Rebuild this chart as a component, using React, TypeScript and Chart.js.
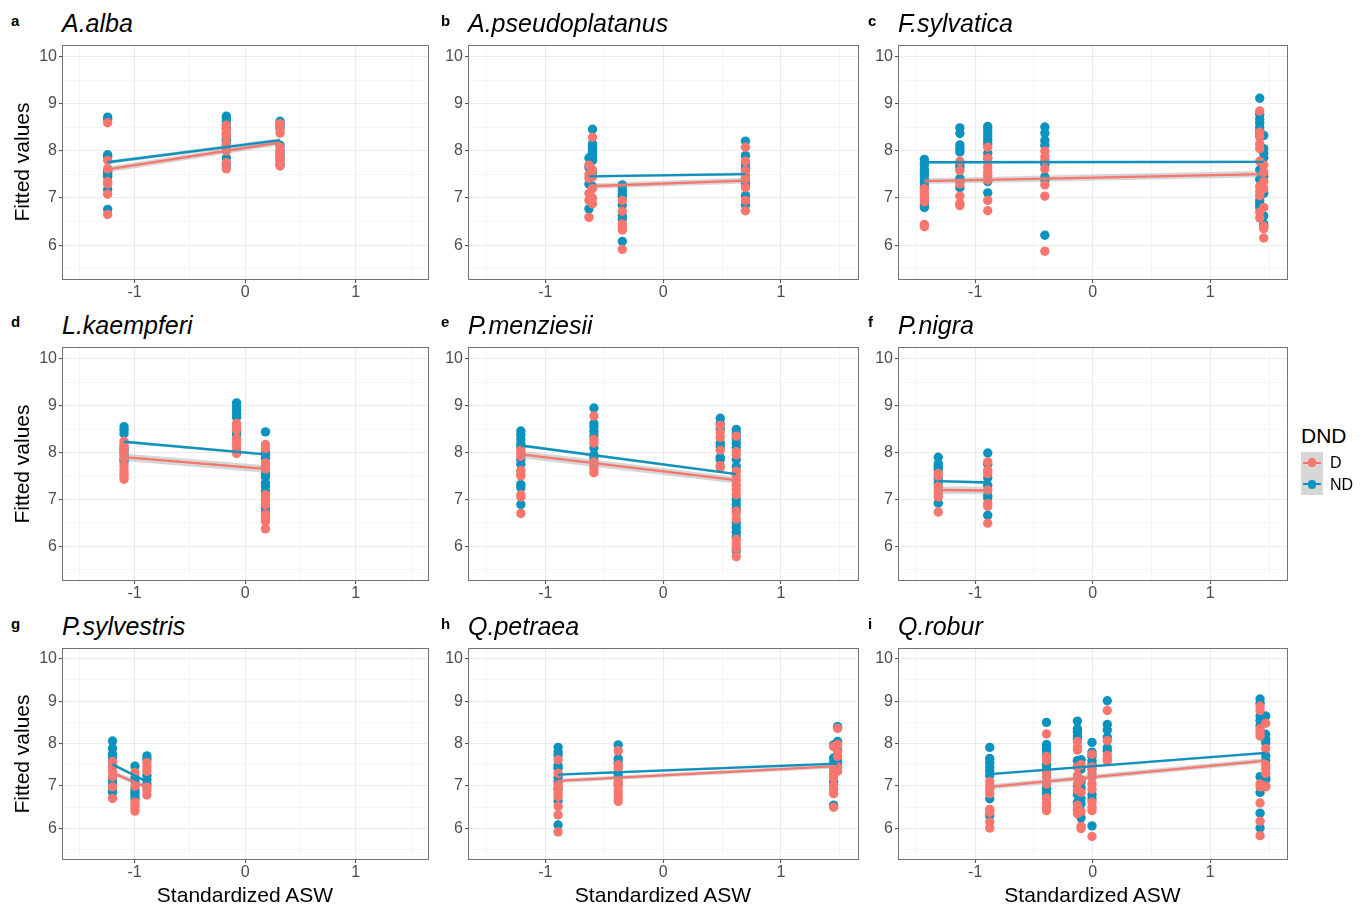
import React, { useEffect, useRef } from 'react';
import { Chart, registerables } from 'chart.js';

Chart.register(...registerables);

type Col = [number, number[]];
type Fit = [number, number][];
type Band = [number, number, number][];

const FONT = "'Liberation Sans', Arial, Helvetica, sans-serif";
const COLOR_D = '#F8766D';
const COLOR_ND = '#0A93BF';
const BAND_FILL = 'rgba(153,153,153,0.4)';

// ---- axis / label data ----
const xTickValues = [-1.5, -1, -0.5, 0, 0.5, 1, 1.5];
const yTickValues = [5.5, 6, 6.5, 7, 7.5, 8, 8.5, 9, 9.5, 10];
const xLabelled = [-1, 0, 1];
const yLabelled = [6, 7, 8, 9, 10];
const xLimits = [-1.648, 1.653];
const yLimits = [5.28, 10.23];

const panelTags = ['a', 'b', 'c', 'd', 'e', 'f', 'g', 'h', 'i'];
const speciesNames = ['A.alba', 'A.pseudoplatanus', 'F.sylvatica', 'L.kaempferi', 'P.menziesii', 'P.nigra', 'P.sylvestris', 'Q.petraea', 'Q.robur'];
const groupNames = ['D', 'ND'];
const legendTitle = 'DND';
const yAxisTitle = 'Fitted values';
const xAxisTitle = 'Standardized ASW';

// ---- a: A.alba ----
const albaD: Col[] = [
  [-1.244, [8.60, 7.80, 7.62, 7.35, 7.30, 7.08, 6.65]],
  [-0.171, [8.55, 8.45, 8.38, 8.30, 8.15, 8.05, 8.00, 7.75, 7.62]],
  [0.315, [8.58, 8.45, 8.38, 8.08, 7.95, 7.85, 7.78, 7.68]],
];
const albaND: Col[] = [
  [-1.244, [8.72, 8.68, 7.92, 7.87, 7.60, 7.55, 7.50, 7.45, 7.18, 6.76]],
  [-0.171, [8.74, 8.68, 8.62, 8.55, 8.48, 8.35, 8.25, 8.20, 8.10, 7.85, 7.70]],
  [0.315, [8.63, 8.55, 8.50, 8.12, 8.00, 7.90, 7.82, 7.72]],
];
const albaFitD: Fit = [[-1.244, 7.61], [0.315, 8.18]];
const albaFitND: Fit = [[-1.244, 7.76], [0.315, 8.23]];
const albaBandD: Band = [[-1.244, 7.54, 7.67], [0.315, 8.12, 8.23]];
const albaBandND: Band = [[-1.244, 7.72, 7.80], [0.315, 8.19, 8.27]];

// ---- b: A.pseudoplatanus ----
const pseudoD: Col[] = [
  [-0.63, [7.70, 7.50, 7.42, 7.10, 6.95, 6.59]],
  [-0.60, [8.29, 7.60, 7.45, 7.20, 7.00, 6.88]],
  [-0.347, [6.95, 6.72, 6.45, 6.38, 6.32, 5.91]],
  [0.698, [8.08, 7.78, 7.58, 7.48, 7.40, 7.22, 6.95, 6.73]],
];
const pseudoND: Col[] = [
  [-0.63, [7.85, 7.65, 7.30, 6.77]],
  [-0.60, [8.46, 8.15, 8.10, 8.05, 8.00, 7.95, 7.90, 7.85, 7.80, 7.55, 7.25]],
  [-0.347, [7.28, 7.22, 7.15, 7.08, 7.02, 6.85, 6.62, 6.55, 6.08]],
  [0.698, [8.21, 7.90, 7.72, 7.62, 7.35, 7.30, 7.05, 6.85]],
];
const pseudoFitD: Fit = [[-0.63, 7.25], [0.698, 7.37]];
const pseudoFitND: Fit = [[-0.63, 7.46], [0.698, 7.51]];
const pseudoBandD: Band = [[-0.63, 7.19, 7.31], [0.698, 7.31, 7.43]];
const pseudoBandND: Band = [[-0.63, 7.43, 7.49], [0.698, 7.48, 7.54]];

// ---- c: F.sylvatica ----
const sylvD: Col[] = [
  [-1.432, [7.20, 7.12, 7.05, 6.98, 6.92, 6.44, 6.39]],
  [-1.13, [7.78, 7.58, 7.30, 7.04, 6.88, 6.84]],
  [-0.893, [8.08, 7.85, 7.75, 7.65, 7.55, 7.48, 7.38, 6.95, 6.73]],
  [-0.407, [8.00, 7.88, 7.80, 7.62, 7.28, 7.04, 5.87]],
  [1.421, [8.85, 8.40, 8.30, 8.15, 8.05, 7.78, 7.25, 7.15, 7.05, 6.70, 6.58]],
  [1.455, [7.70, 7.55, 7.35, 7.20, 6.80, 6.40, 6.35, 6.15]],
];
const sylvND: Col[] = [
  [-1.432, [7.82, 7.72, 7.62, 7.55, 7.48, 7.40, 7.32, 7.25, 6.86, 6.80]],
  [-1.13, [8.49, 8.37, 8.13, 8.05, 7.98, 7.72, 7.65, 7.42, 7.35, 7.22]],
  [-0.893, [8.52, 8.45, 8.38, 8.30, 8.22, 8.15, 7.95, 7.85, 7.35, 7.11]],
  [-0.407, [8.51, 8.38, 8.22, 8.12, 7.72, 7.45, 7.38, 6.21]],
  [1.421, [9.12, 8.78, 8.68, 8.60, 8.50, 8.42, 8.32, 7.60, 7.40, 6.95, 6.88, 6.80]],
  [1.455, [8.33, 8.05, 7.95, 7.85, 7.45, 7.10, 6.62, 6.45, 6.40]],
];
const sylvFitD: Fit = [[-1.432, 7.36], [1.455, 7.51]];
const sylvFitND: Fit = [[-1.432, 7.76], [1.455, 7.77]];
const sylvBandD: Band = [[-1.432, 7.30, 7.42], [1.455, 7.44, 7.58]];
const sylvBandND: Band = [[-1.432, 7.73, 7.79], [1.455, 7.74, 7.80]];

// ---- d: L.kaempferi ----
const kaemD: Col[] = [
  [-1.096, [8.24, 8.18, 8.12, 8.00, 7.88, 7.72, 7.62, 7.55, 7.50, 7.43]],
  [-0.078, [8.62, 8.55, 8.48, 8.30, 8.22, 8.14, 8.06, 7.98]],
  [0.183, [8.17, 8.08, 7.78, 7.72, 7.65, 7.10, 7.00, 6.95, 6.88, 6.68, 6.60, 6.53, 6.37]],
];
const kaemND: Col[] = [
  [-1.096, [8.55, 8.48, 8.40, 8.10, 8.05, 7.96, 7.85, 7.80]],
  [-0.078, [9.06, 8.98, 8.90, 8.82, 8.75, 8.45, 8.38]],
  [0.183, [8.44, 8.00, 7.95, 7.88, 7.55, 7.48, 7.35, 7.28, 7.18, 6.82, 6.72]],
];
const kaemFitD: Fit = [[-1.096, 7.90], [0.183, 7.65]];
const kaemFitND: Fit = [[-1.096, 8.23], [0.183, 7.96]];
const kaemBandD: Band = [[-1.096, 7.82, 7.98], [0.183, 7.57, 7.73]];
const kaemBandND: Band = [[-1.096, 8.20, 8.26], [0.183, 7.93, 7.99]];

// ---- e: P.menziesii ----
const menzD: Col[] = [
  [-1.208, [8.05, 7.98, 7.92, 7.62, 7.55, 7.50, 7.10, 7.05, 6.70]],
  [-0.588, [8.78, 8.28, 8.20, 7.80, 7.72, 7.65, 7.57]],
  [0.484, [8.58, 8.42, 8.32, 8.05, 7.72, 7.68]],
  [0.62, [8.35, 8.02, 7.95, 7.60, 7.50, 7.40, 7.30, 7.20, 7.10, 6.75, 6.70, 6.58, 6.15, 6.05, 5.95, 5.78]],
];
const menzND: Col[] = [
  [-1.208, [8.46, 8.38, 8.28, 8.18, 8.12, 7.85, 7.75, 7.32, 7.25, 6.89]],
  [-0.588, [8.95, 8.62, 8.55, 8.45, 8.35, 8.10, 7.95, 7.88]],
  [0.484, [8.73, 8.62, 8.50, 8.20, 8.12, 7.90, 7.85]],
  [0.62, [8.49, 8.40, 8.30, 8.20, 8.10, 7.85, 7.70, 7.00, 6.90, 6.80, 6.50, 6.40, 6.30, 6.20, 5.90]],
];
const menzFitD: Fit = [[-1.208, 7.96], [0.62, 7.41]];
const menzFitND: Fit = [[-1.208, 8.15], [0.62, 7.54]];
const menzBandD: Band = [[-1.208, 7.88, 8.04], [0.62, 7.34, 7.48]];
const menzBandND: Band = [[-1.208, 8.12, 8.18], [0.62, 7.51, 7.57]];

// ---- f: P.nigra ----
const nigraD: Col[] = [
  [-1.314, [7.55, 7.50, 7.28, 7.20, 7.12, 7.05, 6.73]],
  [-0.893, [7.80, 7.62, 7.55, 7.20, 6.91, 6.85, 6.49]],
];
const nigraND: Col[] = [
  [-1.314, [7.90, 7.76, 7.70, 7.64, 7.44, 7.35, 6.92]],
  [-0.893, [7.99, 7.75, 7.46, 7.30, 7.08, 7.03, 6.66]],
];
const nigraFitD: Fit = [[-1.314, 7.20], [-0.893, 7.19]];
const nigraFitND: Fit = [[-1.314, 7.39], [-0.893, 7.36]];
const nigraBandD: Band = [[-1.314, 7.12, 7.28], [-0.893, 7.11, 7.27]];
const nigraBandND: Band = [[-1.314, 7.36, 7.42], [-0.893, 7.33, 7.39]];

// ---- g: P.sylvestris ----
const sylvestrisD: Col[] = [
  [-1.20, [7.58, 7.45, 7.35, 7.22, 6.98, 6.71]],
  [-0.997, [7.32, 7.00, 6.62, 6.55, 6.48, 6.41]],
  [-0.889, [7.55, 7.45, 7.35, 6.98, 6.90, 6.79]],
];
const sylvestrisND: Col[] = [
  [-1.20, [8.06, 7.88, 7.75, 7.66, 7.55, 7.15, 7.05, 6.90, 6.85]],
  [-0.997, [7.47, 7.20, 7.12, 6.92, 6.85, 6.78, 6.70]],
  [-0.889, [7.71, 7.63, 7.25, 7.15, 7.05]],
];
const sylvestrisFitD: Fit = [[-1.20, 7.31], [-0.889, 6.97]];
const sylvestrisFitND: Fit = [[-1.20, 7.51], [-0.889, 7.10]];
const sylvestrisBandD: Band = [[-1.20, 7.25, 7.37], [-0.889, 6.91, 7.03]];
const sylvestrisBandND: Band = [[-1.20, 7.48, 7.54], [-0.889, 7.07, 7.13]];

// ---- h: Q.petraea ----
const petraeaD: Col[] = [
  [-0.892, [7.62, 7.30, 7.02, 6.95, 6.82, 6.75, 6.52, 6.32, 5.92]],
  [-0.382, [7.83, 7.50, 7.42, 7.10, 7.00, 6.90, 6.80, 6.72, 6.64]],
  [1.446, [7.93, 7.40, 7.28, 7.20, 7.02, 6.92, 6.82, 6.50]],
  [1.48, [8.36, 7.98, 7.80, 7.70, 7.45, 7.35]],
];
const petraeaND: Col[] = [
  [-0.892, [7.91, 7.80, 7.72, 7.48, 7.42, 7.20, 7.10, 6.92, 6.65, 6.08]],
  [-0.382, [7.97, 7.65, 7.55, 7.30, 7.22, 7.05]],
  [1.446, [7.97, 7.66, 7.55, 7.10, 7.05, 6.55]],
  [1.48, [8.40, 8.05, 7.85, 7.60, 7.52]],
];
const petraeaFitD: Fit = [[-0.892, 7.12], [1.48, 7.47]];
const petraeaFitND: Fit = [[-0.892, 7.27], [1.48, 7.53]];
const petraeaBandD: Band = [[-0.892, 7.07, 7.17], [1.48, 7.42, 7.52]];
const petraeaBandND: Band = [[-0.892, 7.24, 7.30], [1.48, 7.50, 7.56]];

// ---- i: Q.robur ----
const roburD: Col[] = [
  [-0.876, [7.10, 7.00, 6.92, 6.82, 6.45, 6.38, 6.15, 6.01]],
  [-0.393, [8.23, 7.70, 7.60, 7.30, 7.20, 7.05, 6.72, 6.60, 6.50, 6.42]],
  [-0.13, [8.05, 7.92, 7.85, 7.45, 7.25, 7.05, 6.90, 6.55, 6.45, 6.35]],
  [-0.099, [7.50, 7.15, 6.85, 6.40, 6.05, 6.00]],
  [-0.006, [7.75, 7.45, 7.30, 7.20, 7.05, 6.92, 6.62, 6.50, 6.42, 5.81]],
  [0.124, [8.78, 8.07, 7.72, 7.65, 7.59]],
  [1.424, [8.88, 8.78, 8.35, 8.25, 8.18, 7.05, 6.98, 6.60, 6.17, 5.83]],
  [1.472, [8.48, 7.88, 7.50, 7.40, 7.30, 7.00, 6.98]],
];
const roburND: Col[] = [
  [-0.876, [7.91, 7.65, 7.55, 7.45, 7.35, 7.25, 6.70, 6.30]],
  [-0.393, [8.50, 7.98, 7.92, 7.85, 7.75, 7.50, 7.40, 6.95, 6.85, 6.80]],
  [-0.13, [8.53, 8.35, 8.28, 8.18, 8.10, 7.60, 7.45, 7.00, 6.80, 6.62]],
  [-0.099, [7.62, 7.40, 7.10, 6.95, 6.70, 6.58, 6.25]],
  [-0.006, [8.03, 7.80, 7.70, 7.60, 7.52, 7.40, 6.80, 6.70, 6.06]],
  [0.124, [9.01, 8.45, 8.32, 8.15, 7.90, 7.83]],
  [1.424, [9.05, 8.95, 8.65, 8.55, 8.42, 7.22, 6.85, 6.36, 6.01]],
  [1.472, [8.65, 8.22, 8.10, 8.02, 7.72, 7.60, 7.20, 7.15]],
];
const roburFitD: Fit = [[-0.876, 6.98], [1.472, 7.60]];
const roburFitND: Fit = [[-0.876, 7.28], [1.472, 7.78]];
const roburBandD: Band = [[-0.876, 6.92, 7.04], [1.472, 7.54, 7.66]];
const roburBandND: Band = [[-0.876, 7.25, 7.31], [1.472, 7.75, 7.81]];

const panelTable = [
  { D: albaD, ND: albaND, fitD: albaFitD, fitND: albaFitND, bandD: albaBandD, bandND: albaBandND },
  { D: pseudoD, ND: pseudoND, fitD: pseudoFitD, fitND: pseudoFitND, bandD: pseudoBandD, bandND: pseudoBandND },
  { D: sylvD, ND: sylvND, fitD: sylvFitD, fitND: sylvFitND, bandD: sylvBandD, bandND: sylvBandND },
  { D: kaemD, ND: kaemND, fitD: kaemFitD, fitND: kaemFitND, bandD: kaemBandD, bandND: kaemBandND },
  { D: menzD, ND: menzND, fitD: menzFitD, fitND: menzFitND, bandD: menzBandD, bandND: menzBandND },
  { D: nigraD, ND: nigraND, fitD: nigraFitD, fitND: nigraFitND, bandD: nigraBandD, bandND: nigraBandND },
  { D: sylvestrisD, ND: sylvestrisND, fitD: sylvestrisFitD, fitND: sylvestrisFitND, bandD: sylvestrisBandD, bandND: sylvestrisBandND },
  { D: petraeaD, ND: petraeaND, fitD: petraeaFitD, fitND: petraeaFitND, bandD: petraeaBandD, bandND: petraeaBandND },
  { D: roburD, ND: roburND, fitD: roburFitD, fitND: roburFitND, bandD: roburBandD, bandND: roburBandND },
];

// ---- layout (page pixels) ----
const colLefts = [62, 468, 898];
const colRights = [428, 858, 1287];
const rowTops = [45, 347, 648];
const rowBottoms = [279, 580, 859];
const Y_AXIS_W = 45;
const X_AXIS_H = 26;
const POINT_R = 4.7;

const isIn = (arr: number[], v: number) => arr.some((a) => Math.abs(a - v) < 1e-9);

const borderPlugin = {
  id: 'panelBorder',
  afterDraw(chart: any) {
    const { ctx, chartArea: a } = chart;
    ctx.save();
    ctx.strokeStyle = '#737373';
    ctx.lineWidth = 1;
    ctx.strokeRect(a.left - 0.5, a.top - 0.5, a.right - a.left + 1, a.bottom - a.top + 1);
    ctx.restore();
  },
};

function Panel({ idx }: { idx: number }) {
  const ref = useRef<HTMLCanvasElement | null>(null);
  const col = idx % 3;
  const row = Math.floor(idx / 3);
  const W = colRights[col] - colLefts[col] + 50;
  const H = rowBottoms[row] - rowTops[row] + 31;
  const left = colLefts[col] - 44;
  const top = rowTops[row] - 5;

  useEffect(() => {
    const p = panelTable[idx];
    const pts = (cols: Col[]) => cols.flatMap(([x, ys]) => ys.map((y) => ({ x, y })));
    const fit = (f: Fit) => f.map(([x, y]) => ({ x, y }));
    const hi = (b: Band) => b.map(([x, , h]) => ({ x, y: h }));
    const lo = (b: Band) => b.map(([x, l]) => ({ x, y: l }));
    const lineDs = (data: any, color: string, order: number) => ({
      type: 'line', data, borderColor: color, borderWidth: 2.3, pointRadius: 0, fill: false, tension: 0, order,
    });
    const bandDs = (data: any, fillOpt: any, order: number) => ({
      type: 'line', data, borderColor: 'rgba(0,0,0,0)', borderWidth: 0, pointRadius: 0,
      fill: fillOpt, backgroundColor: BAND_FILL, tension: 0, order,
    });
    const chart = new Chart(ref.current as HTMLCanvasElement, {
      type: 'scatter',
      data: {
        datasets: [
          lineDs(fit(p.fitND), COLOR_ND, 0),
          bandDs(hi(p.bandND), '+1', 1),
          bandDs(lo(p.bandND), false, 1),
          lineDs(fit(p.fitD), COLOR_D, 2),
          bandDs(hi(p.bandD), '+1', 3),
          bandDs(lo(p.bandD), false, 3),
          { label: groupNames[0], data: pts(p.D), backgroundColor: COLOR_D, pointRadius: POINT_R, pointBorderWidth: 0, borderWidth: 0, order: 4 },
          { label: groupNames[1], data: pts(p.ND), backgroundColor: COLOR_ND, pointRadius: POINT_R, pointBorderWidth: 0, borderWidth: 0, order: 5 },
        ] as any,
      },
      options: {
        animation: false,
        responsive: false,
        events: [],
        layout: { padding: { top: 6, right: 6, left: 0, bottom: 0 } },
        plugins: { legend: { display: false }, tooltip: { enabled: false }, title: { display: false } },
        scales: {
          x: {
            type: 'linear',
            min: xLimits[0],
            max: xLimits[1],
            afterBuildTicks: (s: any) => { s.ticks = xTickValues.map((v) => ({ value: v })); },
            afterFit: (s: any) => { s.height = X_AXIS_H; s.paddingLeft = 0; s.paddingRight = 0; },
            border: { display: false },
            grid: {
              color: (c: any) => (isIn(xLabelled, c.tick?.value) ? '#EBEBEB' : '#F2F2F2'),
              lineWidth: (c: any) => (isIn(xLabelled, c.tick?.value) ? 1.1 : 0.8),
              tickColor: (c: any) => (isIn(xLabelled, c.tick?.value) ? '#555555' : 'rgba(0,0,0,0)'),
              tickLength: 4,
              drawTicks: true,
            },
            ticks: {
              autoSkip: false, maxRotation: 0, padding: 0, color: '#4D4D4D',
              font: { family: FONT, size: 16 },
              callback: (v: any) => (isIn(xLabelled, Number(v)) ? String(v) : ''),
            },
          },
          y: {
            type: 'linear',
            min: yLimits[0],
            max: yLimits[1],
            afterBuildTicks: (s: any) => { s.ticks = yTickValues.map((v) => ({ value: v })); },
            afterFit: (s: any) => { s.width = Y_AXIS_W; s.paddingTop = 0; s.paddingBottom = 0; },
            border: { display: false },
            grid: {
              color: (c: any) => (isIn(yLabelled, c.tick?.value) ? '#EBEBEB' : '#F2F2F2'),
              lineWidth: (c: any) => (isIn(yLabelled, c.tick?.value) ? 1.1 : 0.8),
              tickColor: (c: any) => (isIn(yLabelled, c.tick?.value) ? '#555555' : 'rgba(0,0,0,0)'),
              tickLength: 4,
              drawTicks: true,
            },
            ticks: {
              autoSkip: false, padding: 2, color: '#4D4D4D',
              font: { family: FONT, size: 16 },
              callback: (v: any) => (isIn(yLabelled, Number(v)) ? String(v) : ''),
            },
          },
        },
      } as any,
      plugins: [borderPlugin],
    });
    return () => chart.destroy();
  }, [idx]);

  return (
    <canvas
      ref={ref}
      width={W}
      height={H}
      style={{ position: 'absolute', left, top, width: W, height: H }}
    />
  );
}

function Txt({ x, baseline, size, children, style }: any) {
  return (
    <div
      style={{
        position: 'absolute',
        left: x,
        top: baseline - size * 0.8465,
        fontSize: size,
        lineHeight: `${size}px`,
        whiteSpace: 'nowrap',
        fontFamily: FONT,
        color: '#000',
        ...style,
      }}
    >
      {children}
    </div>
  );
}

const tagLefts = [11, 441, 868];
const tagBaselines = [26, 327, 629];
const titleBaselines = [32, 334, 635];

export default function App() {
  return (
    <div
      style={{
        position: 'absolute', left: 0, top: 0, width: 1368, height: 904,
        background: '#fff', overflow: 'hidden', fontFamily: FONT,
      }}
    >
      {panelTable.map((_, i) => (
        <Panel key={i} idx={i} />
      ))}
      {panelTags.map((t, i) => (
        <Txt key={'tag' + i} x={tagLefts[i % 3]} baseline={tagBaselines[Math.floor(i / 3)]} size={15} style={{ fontWeight: 'bold' }}>
          {t}
        </Txt>
      ))}
      {speciesNames.map((n, i) => (
        <Txt key={'sp' + i} x={colLefts[i % 3]} baseline={titleBaselines[Math.floor(i / 3)]} size={25} style={{ fontStyle: 'italic' }}>
          {n}
        </Txt>
      ))}
      {rowTops.map((t, r) => (
        <div
          key={'yt' + r}
          style={{
            position: 'absolute', left: 20.5, top: (t + rowBottoms[r]) / 2,
            transform: 'translate(-50%, -50%) rotate(-90deg)',
            fontSize: 21, lineHeight: '21px', whiteSpace: 'nowrap', color: '#000',
          }}
        >
          {yAxisTitle}
        </div>
      ))}
      {colLefts.map((l, c) => (
        <Txt key={'xt' + c} x={(l + colRights[c]) / 2} baseline={901.5} size={21} style={{ transform: 'translateX(-50%)' }}>
          {xAxisTitle}
        </Txt>
      ))}
      {/* legend */}
      <Txt x={1301} baseline={442.7} size={21}>{legendTitle}</Txt>
      <div style={{ position: 'absolute', left: 1301, top: 452, width: 22, height: 43, background: '#D6D6D6' }}>
        {[COLOR_D, COLOR_ND].map((c, k) => (
          <React.Fragment key={k}>
            <div style={{ position: 'absolute', left: 2, top: 10.75 + 21.5 * k - 1.2, width: 18, height: 2.4, background: c }} />
            <div style={{ position: 'absolute', left: 11 - 4.3, top: 10.75 + 21.5 * k - 4.3, width: 8.6, height: 8.6, borderRadius: '50%', background: c }} />
          </React.Fragment>
        ))}
      </div>
      {groupNames.map((g, k) => (
        <Txt key={'lg' + k} x={1330} baseline={468.3 + 22.2 * k} size={16}>{g}</Txt>
      ))}
    </div>
  );
}
